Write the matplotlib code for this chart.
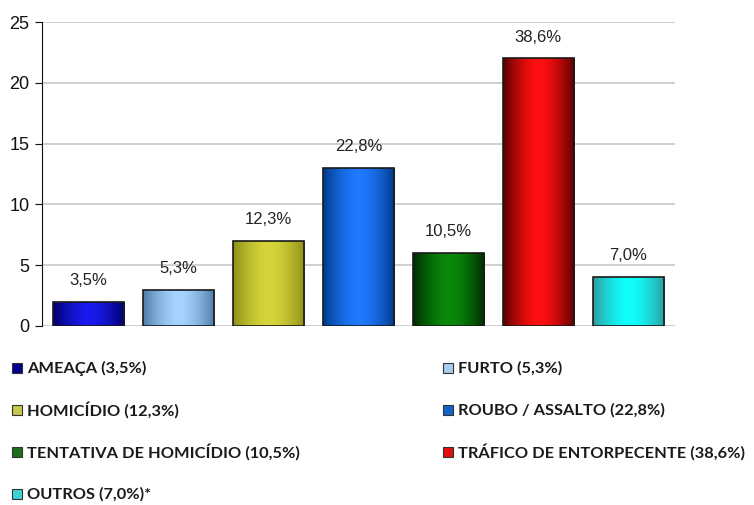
import numpy as np
import matplotlib.pyplot as plt
from matplotlib.colors import LinearSegmentedColormap
from matplotlib.patches import Rectangle

categorias = ["AMEAÇA", "FURTO", "HOMICÍDIO", "ROUBO / ASSALTO",
              "TENTATIVA DE HOMICÍDIO", "TRÁFICO DE ENTORPECENTE", "OUTROS"]
casos = [2, 3, 7, 13, 6, 22, 4]
percentuais = ["3,5%", "5,3%", "12,3%", "22,8%", "10,5%", "38,6%", "7,0%"]

# cor da borda e cor do centro do degradê de cada barra
cor_borda = ["#00006a", "#4f7aa8", "#8f8f18", "#003a8c", "#002a00", "#5a0000", "#2f9c9c"]
cor_centro = ["#1a1aee", "#a6d4ff", "#d6d63a", "#1f7aff", "#0a8a0a", "#ff1010", "#10ffff"]
cor_legenda = ["#00008c", "#a8cdf0", "#c8c850", "#1262cc", "#1e6e1e", "#e01010", "#3ed2d2"]

fig = plt.figure(figsize=(7.54, 5.05), dpi=100)
ax = fig.add_axes([0.0557, 0.3545, 0.8393, 0.6019])

x = np.arange(len(casos))
barras = ax.bar(x, casos, width=0.79, color="none", edgecolor="#1a1a1a",
                linewidth=1.2, zorder=3)

# degradê horizontal (escuro nas bordas, claro no meio) recortado em cada barra
grad = np.abs(np.linspace(-1, 1, 256)).reshape(1, -1)
for b, c0, c1 in zip(barras, cor_borda, cor_centro):
    cmap = LinearSegmentedColormap.from_list("g", [c1, c0])
    x0, w, h = b.get_x(), b.get_width(), b.get_height()
    im = ax.imshow(grad ** 1.6, cmap=cmap, aspect="auto",
                   extent=(x0, x0 + w, 0, h), zorder=2, vmin=0, vmax=1)
    im.set_clip_path(b)

for b, p in zip(barras, percentuais):
    ax.annotate(p, (b.get_x() + b.get_width() / 2, b.get_height()),
                xytext=(0, 10), textcoords="offset points", ha="center",
                va="bottom", fontsize=12, color="#222222",
                family="Liberation Sans")

ax.set_xlim(-0.52, 6.52)
ax.set_ylim(0, 25)
ax.set_yticks(range(0, 26, 5))
ax.set_xticks([])
ax.yaxis.grid(True, color="#c8c8c8", linewidth=1.2, zorder=0)
ax.set_axisbelow(True)
for s in ["top", "right", "bottom"]:
    ax.spines[s].set_visible(False)
ax.spines["left"].set_color("#111111")
ax.tick_params(axis="y", length=5, color="#111111", labelsize=13,
               labelcolor="#111111", pad=4)
for t in ax.get_yticklabels():
    t.set_family("Liberation Sans")

# legenda em duas colunas, montada à mão
linhas_y = [0.2713, 0.1881, 0.1050, 0.0218]
ordem = [(0, 0), (0, 1), (1, 0), (1, 1), (2, 0), (2, 1), (3, 0)]
col_x = [12 / 754, 443 / 754]
lado_w, lado_h = 10 / 754, 10 / 505
for (lin, col), nome, p, cor in zip(ordem, categorias, percentuais, cor_legenda):
    yc = linhas_y[lin]
    fig.patches.append(Rectangle((col_x[col], yc - lado_h / 2), lado_w, lado_h,
                                 transform=fig.transFigure, facecolor=cor,
                                 edgecolor="#333333", linewidth=0.8))
    texto = f"{nome} ({p})"
    if nome == "OUTROS":
        texto += "*"
    fig.text(col_x[col] + 15 / 754, yc, texto, va="center", ha="left",
             fontsize=11.8, family="Lato", weight="bold", color="#1a1a1a")

fig.savefig("out.png", dpi=100, facecolor="white")
